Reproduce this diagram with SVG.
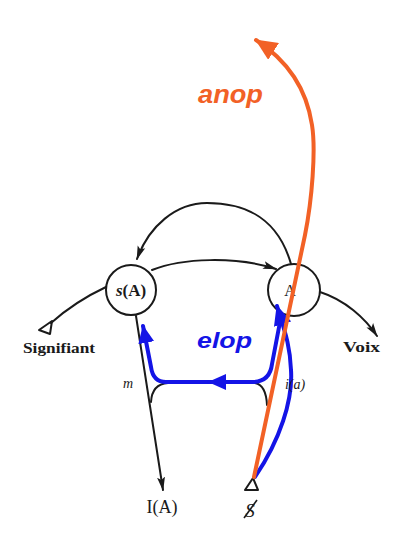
<svg xmlns="http://www.w3.org/2000/svg" width="405" height="540" viewBox="0 0 405 540">
<style>
.bk{fill:none;stroke:#1a1a1a;stroke-width:2;stroke-linecap:round}
.node{fill:#fff;stroke:#1a1a1a;stroke-width:2}
.lbl{font-family:"Liberation Serif","DejaVu Serif",serif;fill:#1a1a1a}
.bl{fill:none;stroke:#1414e6;stroke-width:4;stroke-linecap:round;stroke-linejoin:round}
.or{fill:none;stroke:#f26126;stroke-width:4;stroke-linecap:round}
.tag{font-family:"Liberation Sans","Arial",sans-serif;font-weight:bold;font-style:italic}
</style>
<defs>
<marker id="ak" viewBox="0 0 14 10" refX="13" refY="5" markerWidth="14" markerHeight="10" markerUnits="userSpaceOnUse" orient="auto">
<path d="M0,1 L14,5 L0,9 L3,5 Z" fill="#1a1a1a"/>
</marker>
<marker id="ab" viewBox="0 0 18 16" refX="17" refY="8" markerWidth="18" markerHeight="16" markerUnits="userSpaceOnUse" orient="auto">
<path d="M0,0 L18,8 L0,16 Z" fill="#1414e6"/>
</marker>
<marker id="abL" viewBox="0 0 20 18" refX="19" refY="9" markerWidth="20" markerHeight="18" markerUnits="userSpaceOnUse" orient="auto">
<path d="M0,0 L20,9 L0,18 Z" fill="#1414e6"/>
</marker>
<marker id="ao" viewBox="0 0 22 20" refX="21" refY="10" markerWidth="22" markerHeight="20" markerUnits="userSpaceOnUse" orient="auto">
<path d="M0,0 L22,10 L0,20 Z" fill="#f26126"/>
</marker>
</defs>
<g id="node-sA">
<circle class="node" cx="131" cy="290" r="25"/>
<text class="lbl" x="131" y="296" font-size="17" font-weight="bold" text-anchor="middle"><tspan font-style="italic">s</tspan>(A)</text>
</g>
<g id="node-A">
<circle class="node" cx="294" cy="290" r="26"/>
<text class="lbl" x="290" y="296" font-size="16" text-anchor="middle" fill="#555">A</text>
</g>
<g id="node-signifiant">
<path d="M52,321 L39,330 L50,334 Z" fill="#fff" stroke="#1a1a1a" stroke-width="2" stroke-linejoin="round"/>
<text class="lbl" x="23" y="353" font-size="14" font-weight="bold" textLength="72" lengthAdjust="spacingAndGlyphs">Signifiant</text>
</g>
<g id="node-voix">
<text class="lbl" x="343" y="352" font-size="15" font-weight="bold" textLength="37" lengthAdjust="spacingAndGlyphs">Voix</text>
</g>
<g id="node-IA">
<text class="lbl" x="162" y="513" font-size="18" text-anchor="middle">I(A)</text>
</g>
<g id="node-S">
<path d="M253,478 L245,490 L258,490 Z" fill="#fff" stroke="#1a1a1a" stroke-width="2" stroke-linejoin="round"/>
<text class="lbl" x="250" y="517" font-size="19" font-style="italic" text-anchor="middle">S</text>
<line x1="244" y1="518" x2="257" y2="500" stroke="#1a1a1a" stroke-width="1.6"/>
</g>
<g id="connectors">
<path class="bk" d="M291,264 C 276,212 238,203 207,203 C 176,203 149,226 137,259" marker-end="url(#ak)"/>
<path class="bk" d="M152,270 C 182,258 236,256 276,269" marker-end="url(#ak)"/>
<path class="bk" d="M51,323 C 70,306 89,295 106,287"/>
<path class="bk" d="M320,292 C 345,300 365,318 377,336" marker-end="url(#ak)"/>
<path class="bk" d="M136,316 L163,490" marker-end="url(#ak)"/>
<path class="bk" d="M151,402 Q152,384 168,383 L255,383 Q266,385 267,405"/>
<path class="bl" d="M280,322 L272,364 Q270,381 254,382 L166,382 Q153,382 151,367 L143,326" marker-end="url(#ab)"/>
<path class="bl" d="M230,382 L209,382" marker-end="url(#ab)"/>
<path class="bl" d="M255,477 C 280,440 293,400 291,370 C 290,345 285,332 277,306" marker-end="url(#abL)"/>
<path class="or" d="M254,477 L305,235 C 312,200 316,150 312,125 C 307,92 290,62 256,40" marker-end="url(#ao)"/>
</g>
<g id="labels">
<text class="lbl" x="128" y="388" font-size="14" font-style="italic" text-anchor="middle">m</text>
<text class="lbl" x="295" y="389" font-size="14" font-style="italic" text-anchor="middle">i(a)</text>
<text class="tag" x="197" y="348" font-size="22" fill="#1414e6" textLength="55" lengthAdjust="spacingAndGlyphs">elop</text>
<text class="tag" x="198" y="103" font-size="26" fill="#f26126" textLength="65" lengthAdjust="spacingAndGlyphs">anop</text>
</g>
</svg>
